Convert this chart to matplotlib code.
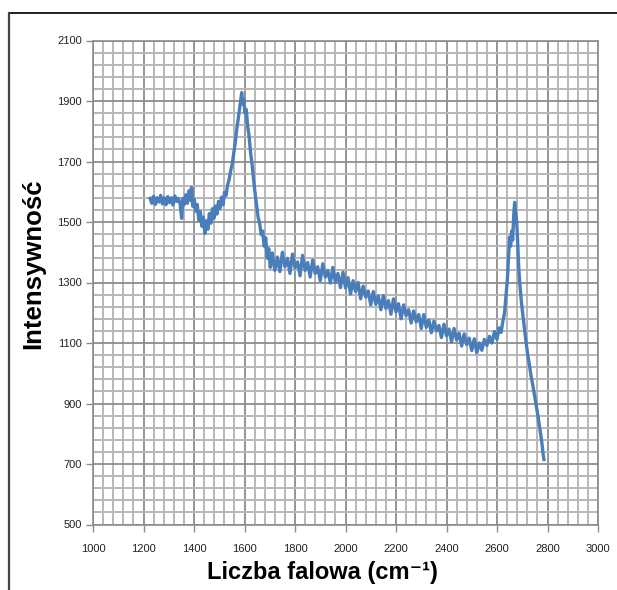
import matplotlib
matplotlib.use('Agg')
import matplotlib.pyplot as plt
from matplotlib.ticker import MultipleLocator
from matplotlib.lines import Line2D

# widmo (cm-1, intensywnosc)
wavenumber = [1226, 1233, 1240, 1247, 1254, 1261, 1268, 1275, 1282, 1289,
              1296, 1303, 1310, 1317, 1324, 1331, 1338, 1345, 1351, 1356,
              1362, 1368, 1374, 1380, 1386, 1390, 1395, 1401, 1407, 1413,
              1419, 1425, 1431, 1437, 1443, 1449, 1455, 1461, 1467, 1473,
              1479, 1485, 1491, 1497, 1503, 1509, 1515, 1521, 1527, 1533,
              1539, 1545, 1551, 1557, 1563, 1569, 1575, 1580, 1585, 1589,
              1593, 1597, 1602, 1607, 1612, 1618, 1624, 1630, 1636, 1642,
              1648, 1654, 1660, 1666, 1672, 1678, 1684, 1690, 1696, 1702,
              1710, 1720, 1730, 1740, 1750, 1760, 1770, 1780, 1790, 1800,
              1810, 1820, 1830, 1840, 1850, 1860, 1870, 1880, 1890, 1900,
              1910, 1920, 1930, 1940, 1950, 1960, 1970, 1980, 1990, 2000,
              2010, 2020, 2030, 2040, 2050, 2060, 2070, 2080, 2090, 2100,
              2110, 2120, 2130, 2140, 2150, 2160, 2170, 2180, 2190, 2200,
              2210, 2220, 2230, 2240, 2250, 2260, 2270, 2280, 2290, 2300,
              2310, 2320, 2330, 2340, 2350, 2360, 2370, 2380, 2390, 2400,
              2410, 2420, 2430, 2440, 2450, 2460, 2470, 2480, 2490, 2500,
              2510, 2520, 2530, 2540, 2550, 2560, 2570, 2580, 2590, 2600,
              2608, 2616, 2624, 2630, 2636, 2641, 2646, 2650, 2654, 2658,
              2662, 2666, 2670, 2674, 2678, 2682, 2686, 2690, 2695, 2700,
              2707, 2714, 2721, 2728, 2735, 2742, 2749, 2756, 2763, 2770,
              2777, 2783, 2786]
intensity = [1578, 1562, 1585, 1558, 1580, 1566, 1588, 1560, 1580, 1557,
             1584, 1564, 1580, 1556, 1586, 1568, 1578, 1560, 1512, 1578,
             1558, 1590, 1562, 1603, 1572, 1614, 1552, 1575, 1536, 1558,
             1506, 1534, 1486, 1516, 1462, 1504, 1476, 1528, 1496, 1544,
             1512, 1553, 1526, 1568, 1545, 1582, 1557, 1598, 1588, 1622,
             1640, 1668, 1690, 1725, 1760, 1805, 1840, 1872, 1905, 1928,
             1890, 1905, 1860, 1872, 1820, 1785, 1730, 1690, 1640, 1595,
             1555, 1515, 1495, 1458, 1470, 1420, 1448, 1380, 1412, 1350,
             1398, 1340, 1384, 1336, 1400, 1352, 1380, 1330, 1394, 1348,
             1368, 1322, 1390, 1340, 1366, 1318, 1374, 1330, 1352, 1306,
             1362, 1318, 1340, 1298, 1350, 1300, 1330, 1283, 1334, 1282,
             1316, 1262, 1306, 1270, 1300, 1246, 1288, 1252, 1272, 1226,
             1270, 1228, 1256, 1210, 1257, 1214, 1240, 1195, 1246, 1203,
             1230, 1180, 1226, 1190, 1210, 1166, 1206, 1170, 1194, 1148,
             1194, 1152, 1176, 1134, 1172, 1140, 1158, 1118, 1162, 1124,
             1146, 1104, 1148, 1110, 1132, 1090, 1130, 1095, 1116, 1075,
             1114, 1068, 1100, 1076, 1112, 1092, 1122, 1100, 1138, 1112,
             1150, 1135, 1175, 1200, 1260, 1310, 1390, 1450, 1420, 1470,
             1440, 1520, 1565, 1530, 1500, 1430, 1350, 1300, 1250, 1210,
             1160, 1110, 1065, 1030, 990, 960, 925, 890, 855, 815,
             775, 730, 715]
x_ticks = [1000, 1200, 1400, 1600, 1800, 2000, 2200, 2400, 2600, 2800, 3000]
y_ticks = [500, 700, 900, 1100, 1300, 1500, 1700, 1900, 2100]

fig = plt.figure(figsize=(6.17, 5.90), dpi=100)
ax = fig.add_axes([93/617, 65.5/590, 505/617, 484/590])

ax.plot(wavenumber, intensity, color='#4a7ebb', lw=2.4, zorder=3)

ax.set_xlim(1000, 3000)
ax.set_ylim(500, 2100)
ax.set_xticks(x_ticks)
ax.set_yticks(y_ticks)
ax.xaxis.set_minor_locator(MultipleLocator(40))
ax.yaxis.set_minor_locator(MultipleLocator(40, offset=20))

ax.set_axisbelow(True)
ax.grid(which='minor', color='#b8b8b8', lw=1.4)
ax.grid(which='major', color='#8c8c8c', lw=1.3)

ax.tick_params(which='major', direction='out', length=5, width=1,
               color='#8c8c8c', labelsize=8, labelcolor='#222222')
ax.tick_params(which='minor', length=0)
ax.tick_params(axis='x', pad=9)
ax.tick_params(axis='y', pad=3)
for s in ax.spines.values():
    s.set_color('#8c8c8c')
    s.set_linewidth(1.2)

fam = ['Liberation Sans', 'DejaVu Sans']
for lab in ax.get_xticklabels() + ax.get_yticklabels():
    lab.set_family(fam)

fig.text(322/617, 1 - 572/590, 'Liczba falowa (cm\u207b\u00b9)', family=fam,
         fontsize=17, fontweight='bold', ha='center', va='center')
fig.text(33/617, 1 - 264/590, 'Intensywność', family=fam, fontsize=18.5,
         fontweight='bold', rotation=90, ha='center', va='center')

# ramka obrazka (gora i lewa strona)
fig.add_artist(Line2D([8.5/617, 1.0], [1 - 12.7/590, 1 - 12.7/590],
                      transform=fig.transFigure, color='#111111', lw=1.3))
fig.add_artist(Line2D([8.5/617, 8.5/617], [0, 1 - 12.7/590],
                      transform=fig.transFigure, color='#444444', lw=1.6))

fig.savefig('out.png', dpi=100)
